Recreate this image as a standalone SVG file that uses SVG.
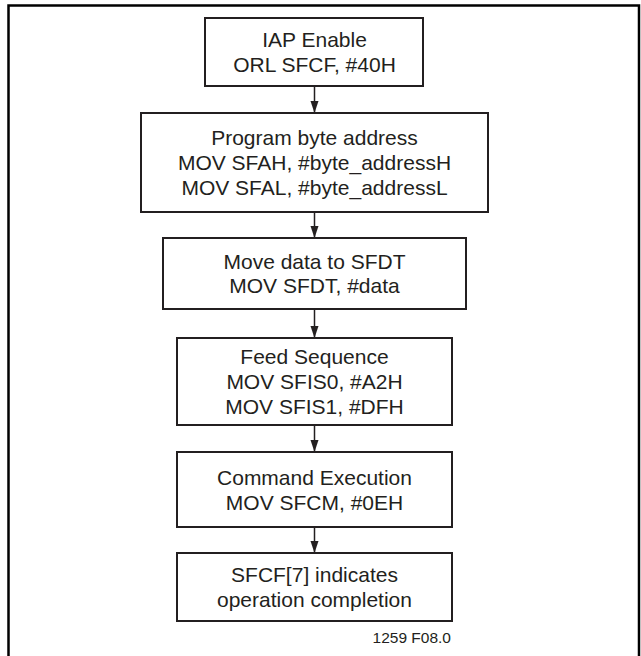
<svg xmlns="http://www.w3.org/2000/svg" width="641" height="656" viewBox="0 0 641 656">
<style>
.box{fill:#fff;stroke:#231f20;stroke-width:2}
.t{font-family:"Liberation Sans",Arial,sans-serif;font-size:21px;fill:#231f20;text-anchor:middle}
.conn{stroke:#231f20;stroke-width:1.5;fill:none;marker-end:url(#ah)}
</style>
<defs>
<marker id="ah" markerUnits="userSpaceOnUse" markerWidth="12" markerHeight="14" refX="12" refY="4" orient="auto">
<path d="M0,0 L12,4 L0,8 Z" fill="#231f20"/>
</marker>
</defs>
<rect width="641" height="656" fill="#fff"/>
<path d="M8.5,656 V5.5 H639 V656" fill="none" stroke="#000" stroke-width="2.5"/>
<g id="connectors">
<line class="conn" x1="314.5" y1="86" x2="314.5" y2="113"/>
<line class="conn" x1="314.5" y1="212" x2="314.5" y2="238"/>
<line class="conn" x1="314.5" y1="309" x2="314.5" y2="338"/>
<line class="conn" x1="314.5" y1="425" x2="314.5" y2="452"/>
<line class="conn" x1="314.5" y1="527" x2="314.5" y2="553"/>
</g>
<g id="n1">
<rect class="box" x="205" y="18" width="218" height="68"/>
<text class="t" x="314.5" y="47">IAP Enable</text>
<text class="t" x="314.5" y="72">ORL SFCF, #40H</text>
</g>
<g id="n2">
<rect class="box" x="141" y="113" width="347" height="99"/>
<text class="t" x="314.5" y="145">Program byte address</text>
<text class="t" x="314.5" y="170">MOV SFAH, #byte_addressH</text>
<text class="t" x="314.5" y="195">MOV SFAL, #byte_addressL</text>
</g>
<g id="n3">
<rect class="box" x="163" y="238" width="303" height="71"/>
<text class="t" x="314.5" y="269">Move data to SFDT</text>
<text class="t" x="314.5" y="293">MOV SFDT, #data</text>
</g>
<g id="n4">
<rect class="box" x="177" y="338" width="275" height="87"/>
<text class="t" x="314.5" y="364">Feed Sequence</text>
<text class="t" x="314.5" y="389">MOV SFIS0, #A2H</text>
<text class="t" x="314.5" y="414">MOV SFIS1, #DFH</text>
</g>
<g id="n5">
<rect class="box" x="177" y="452" width="275" height="75"/>
<text class="t" x="314.5" y="485">Command Execution</text>
<text class="t" x="314.5" y="510">MOV SFCM, #0EH</text>
</g>
<g id="n6">
<rect class="box" x="177" y="553" width="275" height="68"/>
<text class="t" x="314.5" y="582">SFCF[7] indicates</text>
<text class="t" x="314.5" y="607">operation completion</text>
</g>
<text x="451" y="643" font-family="Liberation Sans,Arial,sans-serif" font-size="15.5" fill="#231f20" text-anchor="end">1259 F08.0</text>
</svg>
